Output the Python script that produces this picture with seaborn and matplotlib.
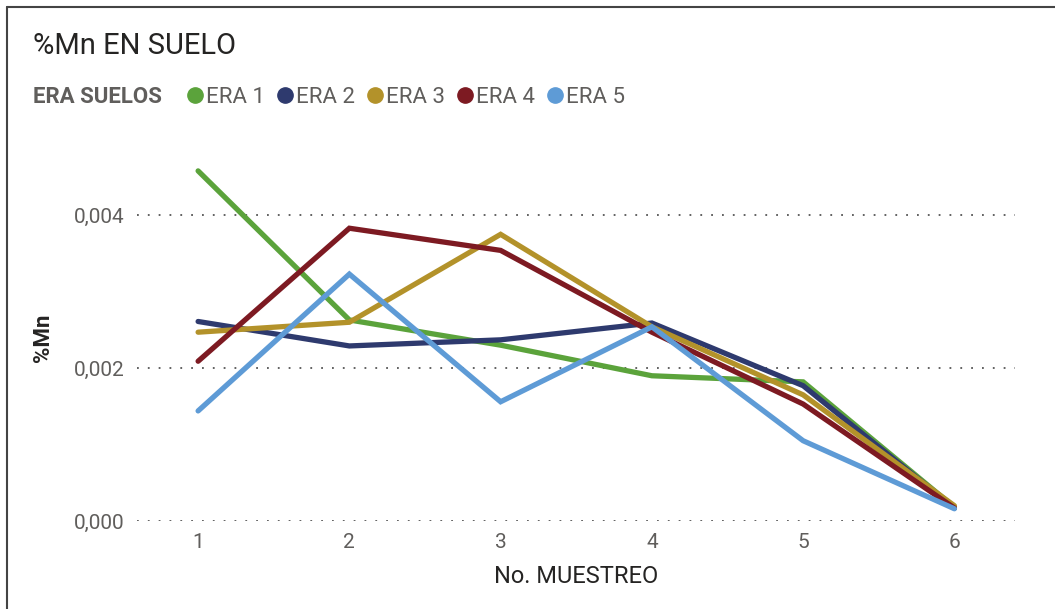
import matplotlib
matplotlib.use('Agg')
import pandas as pd
import matplotlib.pyplot as plt
import seaborn as sns
from matplotlib.lines import Line2D

# datos
muestreos = [1, 2, 3, 4, 5, 6]
eras = ['ERA 1', 'ERA 2', 'ERA 3', 'ERA 4', 'ERA 5']
era1 = [0.00458, 0.00263, 0.00230, 0.00190, 0.00182, 0.00018]
era2 = [0.00261, 0.00229, 0.00237, 0.00259, 0.00177, 0.00017]
era3 = [0.00247, 0.00260, 0.00375, 0.00254, 0.00165, 0.00020]
era4 = [0.00209, 0.00383, 0.00354, 0.00247, 0.00153, 0.00017]
era5 = [0.00144, 0.00323, 0.00156, 0.00254, 0.00105, 0.00016]
colores = ['#5BA33B', '#2E3A6E', '#B3922A', '#7D1A22', '#5E9BD6']

filas = []
for era, valores in zip(eras, [era1, era2, era3, era4, era5]):
    for m, v in zip(muestreos, valores):
        filas.append({'muestreo': m, 'mn': v, 'era': era})
df = pd.DataFrame(filas)

sns.set_theme(style="white")
plt.rcParams['font.family'] = ['Roboto', 'DejaVu Sans']

fig = plt.figure(figsize=(10.55, 6.09), dpi=100)
ax = fig.add_axes([0.130, 0.1445, 0.832, 0.6025])

sns.lineplot(data=df, x='muestreo', y='mn', hue='era', palette=colores,
             linewidth=3.8, ax=ax, legend=False, solid_joinstyle='miter')

ax.set_xlim(0.597, 6.40)
ax.set_ylim(0, 0.0048)
ax.set_xticks(muestreos)
ax.set_yticks([0, 0.002, 0.004])
ax.set_yticklabels(['0,000', '0,002', '0,004'])
ax.yaxis.grid(True, color='#555555', linestyle=(0, (1, 5)), linewidth=1.3)
ax.xaxis.grid(False)
for s in ax.spines.values():
    s.set_visible(False)
ax.tick_params(axis='both', length=0, labelsize=15, colors='#605E5C', pad=9)
ax.set_xlabel('No. MUESTREO', fontsize=17, color='#252423', labelpad=9)
ax.set_ylabel('%Mn', fontsize=16, color='#252423', fontweight='bold', labelpad=14)

fig.text(0.031, 0.925, '%Mn EN SUELO', fontsize=21, color='#252423', va='center')
fig.text(0.031, 0.84, 'ERA SUELOS', fontsize=16, color='#605E5C', fontweight='bold', va='center')

handles = [Line2D([0], [0], marker='o', linestyle='', markersize=11, color=c) for c in colores]
leg = fig.legend(handles, eras, loc='center left', bbox_to_anchor=(0.155, 0.84), ncol=5,
                 frameon=False, handletextpad=0.0, columnspacing=0.4, fontsize=16,
                 handlelength=1.0)
for t in leg.get_texts():
    t.set_color('#605E5C')

# marco del visual
fig.add_artist(Line2D([0.0066, 0.0066], [0, 0.989], color='#444444', linewidth=1.5, transform=fig.transFigure))
fig.add_artist(Line2D([0.0066, 1.0], [0.989, 0.989], color='#444444', linewidth=1.5, transform=fig.transFigure))

fig.savefig('out.png', dpi=100)
